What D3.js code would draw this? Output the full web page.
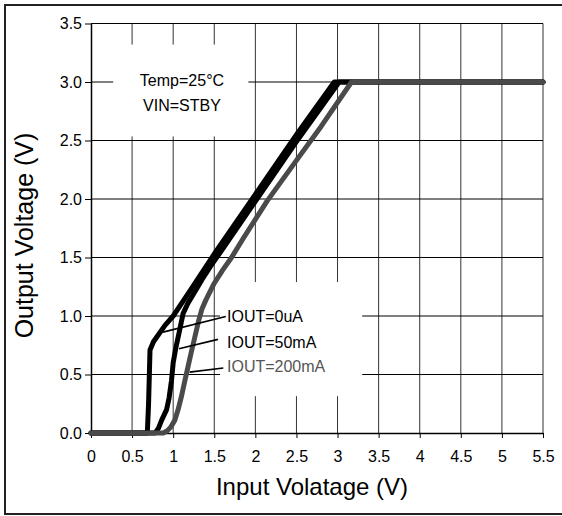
<!DOCTYPE html>
<html>
<head>
<meta charset="utf-8">
<script src="https://cdn.jsdelivr.net/npm/d3@7"></script>
<style>
  html, body { margin: 0; padding: 0; background: #fff; }
  svg text { font-family: "Liberation Sans", Arial, sans-serif; }
</style>
</head>
<body>
<svg id="chart" width="562" height="516"></svg>
<script>
// ---- data ----
const xTicks = [0, 0.5, 1, 1.5, 2, 2.5, 3, 3.5, 4, 4.5, 5, 5.5];
const xTickLabels = ["0", "0.5", "1", "1.5", "2", "2.5", "3", "3.5", "4", "4.5", "5", "5.5"];
const yTicks = [0, 0.5, 1, 1.5, 2, 2.5, 3, 3.5];
const yTickLabels = ["0.0", "0.5", "1.0", "1.5", "2.0", "2.5", "3.0", "3.5"];

const seriesNames = ["IOUT=0uA", "IOUT=50mA", "IOUT=200mA"];

const vin0uA  = [0, 0.685, 0.70, 0.718, 0.76, 0.82, 0.90, 1.00, 1.20, 1.50, 2.00, 2.50, 2.96, 5.5];
const vout0uA = [0, 0, 0.24, 0.71, 0.78, 0.84, 0.92, 1.00, 1.21, 1.53, 2.04, 2.55, 3.00, 3.00];

const vin50mA  = [0, 0.78, 0.82, 0.86, 0.92, 0.95, 0.98, 1.00, 1.03, 1.07, 1.12, 1.18, 1.24, 1.30, 1.35, 1.45, 1.55, 2.00, 2.50, 3.02, 5.5];
const vout50mA = [0, 0, 0.04, 0.11, 0.20, 0.30, 0.45, 0.60, 0.72, 0.85, 1.02, 1.11, 1.18, 1.25, 1.31, 1.42, 1.52, 1.98, 2.49, 3.00, 3.00];

const vin200mA  = [0, 0.88, 0.93, 0.97, 1.02, 1.06, 1.10, 1.14, 1.18, 1.22, 1.25, 1.28, 1.31, 1.35, 1.40, 1.45, 1.50, 1.60, 1.71, 1.85, 2.14, 2.50, 2.80, 3.17, 5.5];
const vout200mA = [0, 0, 0.02, 0.05, 0.11, 0.20, 0.31, 0.44, 0.565, 0.69, 0.78, 0.87, 0.96, 1.06, 1.14, 1.21, 1.28, 1.39, 1.50, 1.66, 1.98, 2.33, 2.62, 3.00, 3.00];

// leader line endpoints: [curve x, curve y, label x, label y]
const leader0uA   = [0.876, 0.862, 1.64, 0.995];
const leader50mA  = [1.07, 0.72, 1.545, 0.80];
const leader200mA = [1.20, 0.52, 1.61, 0.555];

const conditionLines = ["Temp=25°C", "VIN=STBY"];

// ---- layout ----
const svg = d3.select("#chart");
const plotLeft = 91, plotRight = 543, plotTop = 23.5, plotBottom = 433;
const x = d3.scaleLinear().domain([0, 5.5]).range([plotLeft, plotRight]);
const y = d3.scaleLinear().domain([0, 3.5]).range([plotBottom, plotTop]);

// outer frame
svg.append("rect")
  .attr("x", 5).attr("y", 5).attr("width", 620).attr("height", 509)
  .attr("fill", "#fff").attr("stroke", "#222").attr("stroke-width", 2);

// gridlines
const grid = svg.append("g");
grid.selectAll("line.v").data(xTicks.filter(d => d > 0)).enter().append("line")
  .attr("x1", d => x(d)).attr("x2", d => x(d))
  .attr("y1", y(3.5)).attr("y2", y(0))
  .attr("stroke", "#333").attr("stroke-width", 1);
grid.selectAll("line.h").data(yTicks.filter(d => d > 0)).enter().append("line")
  .attr("x1", x(0)).attr("x2", x(5.5))
  .attr("y1", d => y(d)).attr("y2", d => y(d))
  .attr("stroke", "#000").attr("stroke-width", 1);

// white boxes behind annotations
svg.append("rect")
  .attr("x", x(0.27)).attr("y", y(3.32))
  .attr("width", x(1.915) - x(0.27)).attr("height", y(2.535) - y(3.32))
  .attr("fill", "#fff");
svg.append("rect")
  .attr("x", x(1.57)).attr("y", y(1.29))
  .attr("width", x(3.30) - x(1.57)).attr("height", y(0.315) - y(1.29))
  .attr("fill", "#fff");

// axes
const yAxis = d3.axisLeft(y).tickValues(yTicks)
  .tickFormat((d, i) => yTickLabels[i]).tickSize(6).tickSizeOuter(0).tickPadding(3);
const xAxis = d3.axisBottom(x).tickValues(xTicks)
  .tickFormat((d, i) => xTickLabels[i]).tickSize(5).tickSizeOuter(0).tickPadding(13);

const gy = svg.append("g").attr("transform", `translate(${plotLeft},0)`).call(yAxis);
const gx = svg.append("g").attr("transform", `translate(0,${plotBottom})`).call(xAxis);
[gx, gy].forEach(g => {
  g.select(".domain").attr("stroke", "#000").attr("stroke-width", 1.5);
  g.selectAll(".tick line").attr("stroke", "#000");
  g.selectAll(".tick text").attr("fill", "#000")
    .style("font-size", "16px").style("font-family", '"Liberation Sans", Arial, sans-serif');
});

// curves
const series = [
  { xs: vin0uA, ys: vout0uA, color: "#000" },
  { xs: vin50mA, ys: vout50mA, color: "#000" },
  { xs: vin200mA, ys: vout200mA, color: "#4a4a4a" }
];
const line = d3.line().x(d => x(d[0])).y(d => y(d[1]));
series.forEach(s => {
  svg.append("path")
    .datum(s.xs.map((v, i) => [v, s.ys[i]]))
    .attr("d", line)
    .attr("fill", "none")
    .attr("stroke", s.color)
    .attr("stroke-width", 5)
    .attr("stroke-linejoin", "round")
    .attr("stroke-linecap", "round");
});

// leader lines and labels
const leaders = [leader0uA, leader50mA, leader200mA];
const labelColors = ["#000", "#000", "#555"];
const labelY = [0.945, 0.73, 0.52];
leaders.forEach((l, i) => {
  svg.append("line")
    .attr("x1", x(l[0])).attr("y1", y(l[1]))
    .attr("x2", x(l[2])).attr("y2", y(l[3]))
    .attr("stroke", "#000").attr("stroke-width", 1.6);
  svg.append("text")
    .attr("x", x(1.655)).attr("y", y(labelY[i]))
    .attr("fill", labelColors[i])
    .style("font-size", "16px")
    .text(seriesNames[i]);
});

// condition text
conditionLines.forEach((t, i) => {
  svg.append("text")
    .attr("x", x(1.107)).attr("y", 86 + i * 25)
    .attr("text-anchor", "middle")
    .attr("fill", "#000")
    .style("font-size", "16px")
    .text(t);
});

// axis titles
svg.append("text")
  .attr("x", 312).attr("y", 495)
  .attr("text-anchor", "middle")
  .style("font-size", "24px")
  .text("Input Volatage (V)");
svg.append("text")
  .attr("transform", "translate(33,235.5) rotate(-90)")
  .attr("text-anchor", "middle")
  .style("font-size", "25px")
  .text("Output Voltage (V)");
</script>
</body>
</html>
